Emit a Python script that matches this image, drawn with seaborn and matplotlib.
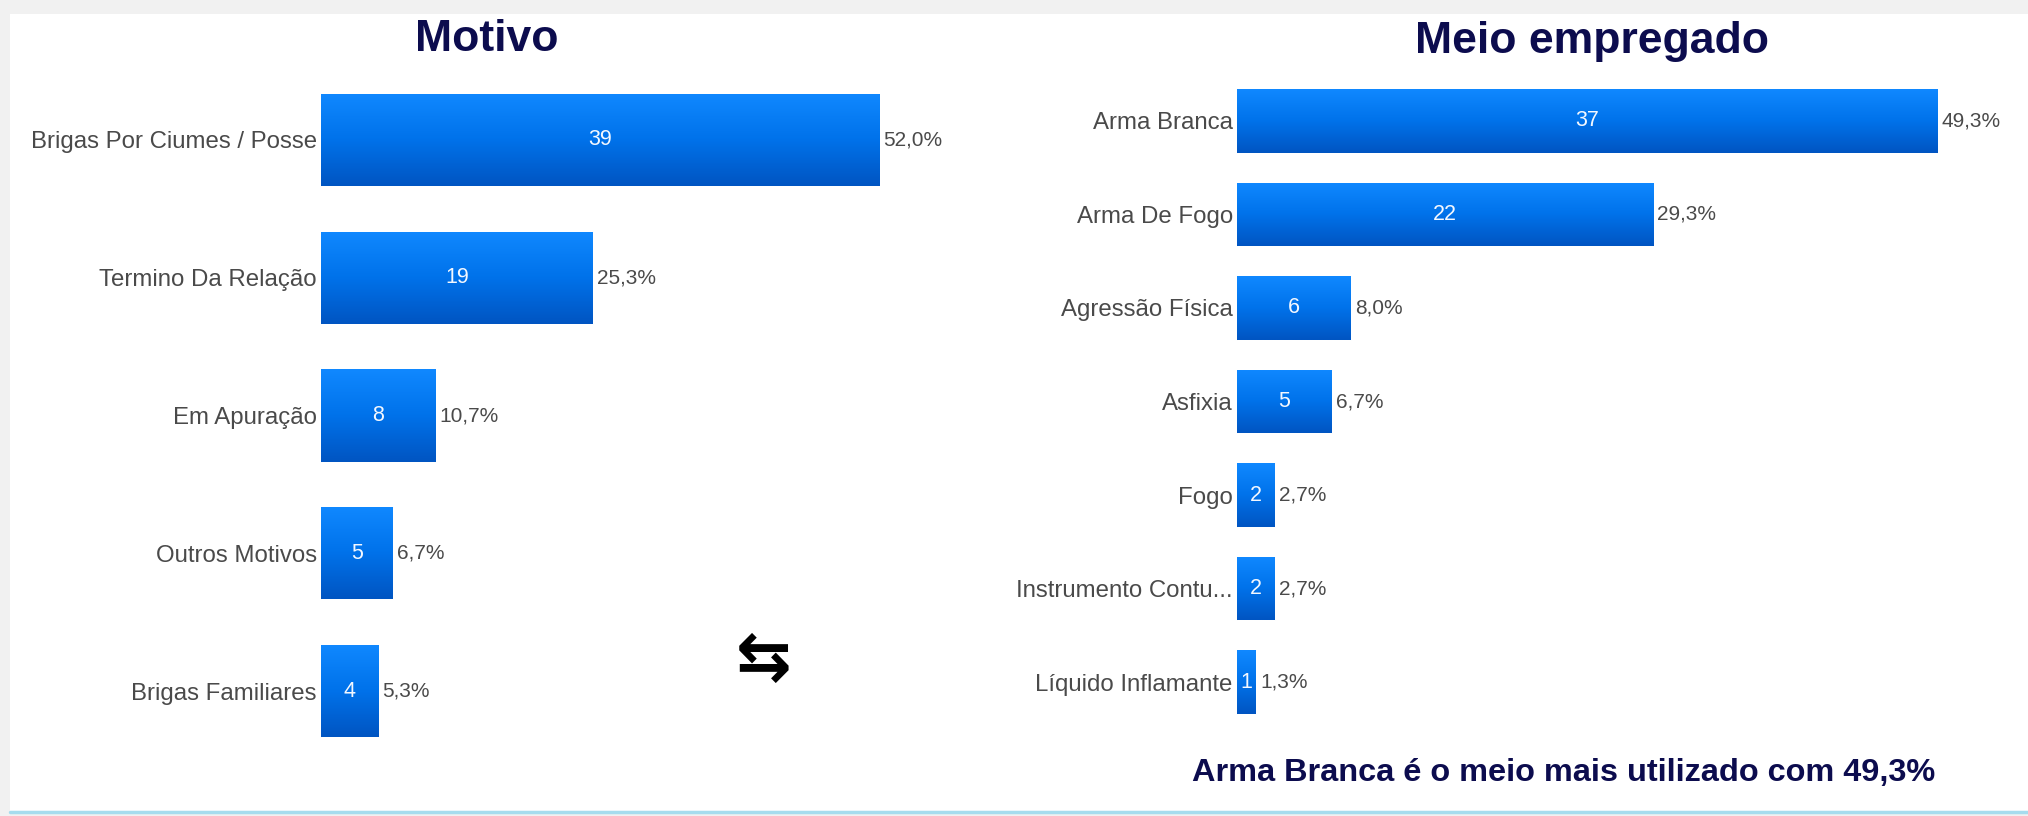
import numpy as np
import pandas as pd
import seaborn as sns
import matplotlib.pyplot as plt
from matplotlib.colors import LinearSegmentedColormap
from matplotlib.patches import Rectangle
from matplotlib.lines import Line2D

# data
motivo_labels = ['Brigas Por Ciumes / Posse', 'Termino Da Relação', 'Em Apuração',
                 'Outros Motivos', 'Brigas Familiares']
motivo_counts = [39, 19, 8, 5, 4]
motivo_pct = ['52,0%', '25,3%', '10,7%', '6,7%', '5,3%']

meio_labels = ['Arma Branca', 'Arma De Fogo', 'Agressão Física', 'Asfixia', 'Fogo',
               'Instrumento Contu...', 'Líquido Inflamante']
meio_counts = [37, 22, 6, 5, 2, 2, 1]
meio_pct = ['49,3%', '29,3%', '8,0%', '6,7%', '2,7%', '2,7%', '1,3%']

W, H = 2028, 816
NAVY = '#0c0c4e'
GREY = '#4a4a4a'

sns.set_style('white')
plt.rcParams['font.family'] = ['Liberation Sans', 'DejaVu Sans']

grad = LinearSegmentedColormap.from_list('bar', ['#1088ff', '#0072ea', '#0055c2'])


def px_axes(fig, left, top, width, height):
    return fig.add_axes([left / W, 1 - (top + height) / H, width / W, height / H])


def draw_panel(ax, labels, counts, pct, px_per_unit, width_px, bar_w, count_fs):
    df = pd.DataFrame({'label': labels, 'count': counts})
    sns.barplot(data=df, x='count', y='label', orient='h', color='#0a6ee0',
                width=bar_w, ax=ax, saturation=1)
    g = np.linspace(0, 1, 64).reshape(-1, 1)
    for patch in ax.patches:
        x0, y0 = patch.get_x(), patch.get_y()
        w, h = patch.get_width(), patch.get_height()
        im = ax.imshow(g, cmap=grad, aspect='auto', origin='upper',
                       extent=(x0, x0 + w, y0 + h, y0), zorder=3)
        im.set_clip_path(patch)
    for i, (c, p) in enumerate(zip(counts, pct)):
        ax.text(c / 2, i, str(c), ha='center', va='center', color='#f4f8ff',
                fontsize=count_fs, zorder=5)
        ax.annotate(p, (c, i), xytext=(3, 0), textcoords='offset points',
                    ha='left', va='center', fontsize=15, color=GREY)
    ax.set_xlim(0, width_px / px_per_unit)
    ax.set_ylim(len(labels) - 0.5, -0.5)
    ax.set_xlabel('')
    ax.set_ylabel('')
    ax.set_xticks([])
    ax.tick_params(axis='y', length=0, pad=3, labelsize=17.3, labelcolor=GREY)
    for s in ax.spines.values():
        s.set_visible(False)
    ax.patch.set_alpha(0)


fig = plt.figure(figsize=(W / 100, H / 100), dpi=100, facecolor='#f1f1f1')

# white card with a light cyan bottom edge (behind the axes)
fig.patches.append(Rectangle((10 / W, 4 / H), 1 - 10 / W, 1 - 18 / H,
                             transform=fig.transFigure, facecolor='white',
                             edgecolor='none', zorder=-2))
fig.lines.append(Line2D([10 / W, 1], [4 / H, 4 / H], transform=fig.transFigure,
                        color='#a6dcee', lw=2.5, zorder=-1))

ax1 = px_axes(fig, 321, 71, 620, 689)
draw_panel(ax1, motivo_labels, motivo_counts, motivo_pct, 14.31, 620, 0.67, 15.5)

ax2 = px_axes(fig, 1237, 74, 760, 655)
draw_panel(ax2, meio_labels, meio_counts, meio_pct, 18.92, 760, 0.68, 15.5)

fig.text(487 / W, 1 - 51 / H, 'Motivo', ha='center', va='baseline',
         fontsize=32, fontweight='bold', color=NAVY)
fig.text(1592 / W, 1 - 53 / H, 'Meio empregado', ha='center', va='baseline',
         fontsize=32, fontweight='bold', color=NAVY)
fig.text(1564 / W, 1 - 773 / H, 'Arma Branca é o meio mais utilizado com 49,3%',
         ha='center', va='center', fontsize=23.4, fontweight='bold', color=NAVY)
fig.text(764 / W, 1 - 660 / H, '⇆', ha='center', va='center', fontsize=48,
         fontweight='bold', color='black', family=['DejaVu Sans'])

fig.savefig('out.png', dpi=100, facecolor=fig.get_facecolor())
